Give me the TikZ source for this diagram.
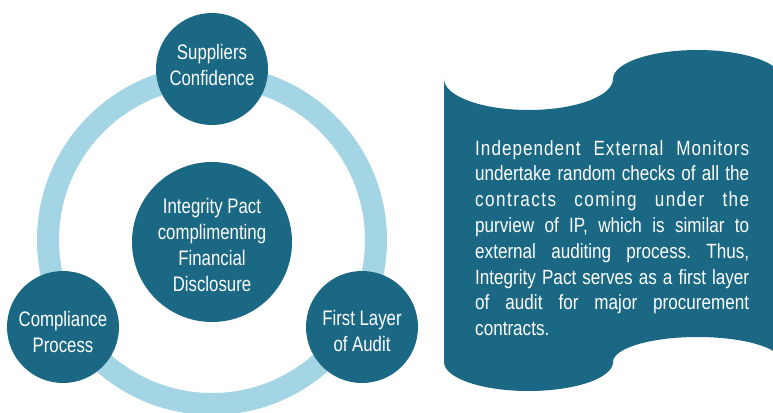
\documentclass[tikz,border=0pt]{standalone}
\usepackage{fontspec}
\setmainfont{Liberation Sans}[FakeStretch=0.8]
\newfontfamily\bannerfont{Liberation Sans}[FakeStretch=0.83]
\definecolor{teal}{HTML}{1A6884}
\definecolor{ringblue}{HTML}{A3D5E5}
\newcommand{\jline}[1]{\leavevmode\hbox to 274pt{#1}}
\begin{document}
\begin{tikzpicture}[x=1pt,y=-1pt,
  bubble/.style={circle,fill=teal,draw=none,inner sep=0pt},
  ctext/.style={text=white,align=center,inner sep=0pt,font=\fontsize{21}{26}\selectfont},
  btext/.style={text=white,inner sep=0pt,anchor=north west,text width=274pt,align=left,font=\bannerfont\fontsize{20.6}{25.8}\selectfont}]
\useasboundingbox (0,0) rectangle (773,412);
\clip (0,0) rectangle (773,412);
% ring
\draw[ringblue,line width=22pt] (212,240) circle[radius=164];
% circles
\node[bubble,minimum size=112pt] (sup) at (212,69) {};
\node[bubble,minimum size=160pt] (ip) at (212,242) {};
\node[bubble,minimum size=112pt] (comp) at (63,327) {};
\node[bubble,minimum size=112pt] (aud) at (362,327) {};
\node[ctext] (supt) at (212,65.3) {Suppliers\\Confidence};
\node[ctext] (ipt) at (212,244.5) {Integrity Pact\\complimenting\\Financial\\Disclosure};
\node[ctext] (compt) at (63,331.8) {Compliance\\Process};
\node[ctext] (audt) at (362,331.3) {First Layer\\of Audit};
% banner
\fill[teal] (444,79) arc[start angle=180,end angle=0,x radius=84.5,y radius=31]
  arc[start angle=180,end angle=360,x radius=84.5,y radius=29]
  -- (782,362)
  arc[start angle=0,end angle=-180,x radius=84.5,y radius=25]
  arc[start angle=0,end angle=180,x radius=84.5,y radius=29]
  -- cycle;
\node[btext] (bt) at (475,140) {%
\jline{\addfontfeature{LetterSpace=5}Independent\hfill External\hfill Monitors}\\
\jline{undertake\hfill random\hfill checks\hfill of\hfill all\hfill the}\\
\jline{\addfontfeature{LetterSpace=7}contracts\hfill coming\hfill under\hfill the}\\
\jline{purview\hfill of\hfill IP,\hfill which\hfill is\hfill similar\hfill to}\\
\jline{external\hfill auditing\hfill process.\hfill Thus,}\\
\jline{Integrity\hfill Pact\hfill serves\hfill as\hfill a\hfill first\hfill layer}\\
\jline{of\hfill audit\hfill for\hfill major\hfill procurement}\\
contracts.};
\end{tikzpicture}
\end{document}
